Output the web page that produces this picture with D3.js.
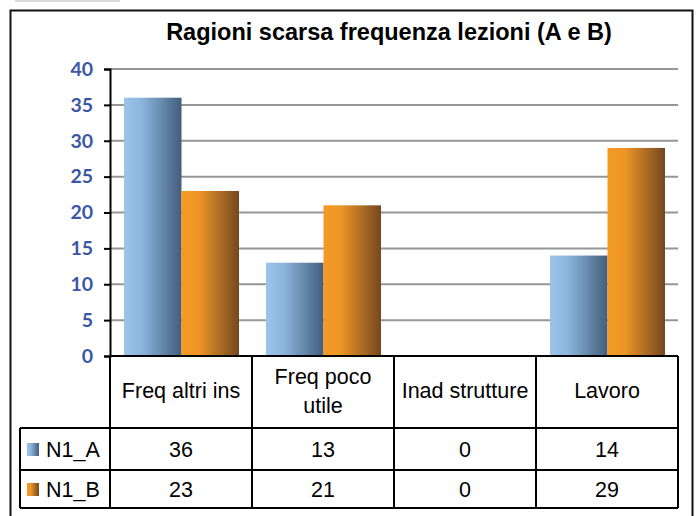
<!DOCTYPE html>
<html><head><meta charset="utf-8">
<script src="https://cdn.jsdelivr.net/npm/d3@7"></script>
<style>body{margin:0;background:#fff}svg{display:block}</style>
</head><body>
<script>
const title = "Ragioni scarsa frequenza lezioni (A e B)";
const categories = ["Freq altri ins", "Freq poco utile", "Inad strutture", "Lavoro"];
const categoryLines = [["Freq altri ins"], ["Freq poco", "utile"], ["Inad strutture"], ["Lavoro"]];
const seriesNames = ["N1_A", "N1_B"];
const valuesA = [36, 13, 0, 14];
const valuesB = [23, 21, 0, 29];
const yTicks = [0, 5, 10, 15, 20, 25, 30, 35, 40];

(function () {
const W = 699, H = 516;
const svg = d3.select("body").append("svg").attr("width", W).attr("height", H);
const defs = svg.append("defs");
function grad(id, c1, c2, c3) {
  const g = defs.append("linearGradient").attr("id", id).attr("x1", "0").attr("x2", "1").attr("y1", "0").attr("y2", "0");
  g.append("stop").attr("offset", "0").attr("stop-color", c1);
  g.append("stop").attr("offset", "0.3").attr("stop-color", c2);
  g.append("stop").attr("offset", "1").attr("stop-color", c3);
}
grad("gA", "#9DC4E8", "#8DB6DE", "#435E7C");
grad("gB", "#F49A24", "#EE9526", "#744820");
const fills = ["url(#gA)", "url(#gB)"];

svg.append("rect").attr("x", 15).attr("y", 0).attr("width", 105).attr("height", 2).attr("fill", "#d9d9d9");
svg.append("rect").attr("x", 10.5).attr("y", 10.5).attr("width", 682).attr("height", 520)
  .attr("fill", "none").attr("stroke", "#111").attr("stroke-width", 2);

const pLeft = 110, pRight = 678, pTop = 69, zeroY = 356;
const x = d3.scaleBand().domain(categories).range([pLeft, pRight]).padding(0);
const y = d3.scaleLinear().domain([0, 40]).range([zeroY, pTop]);
const xs = d3.scaleBand().domain(seriesNames).range([14, x.bandwidth() - 13]).padding(0);

svg.append("g").selectAll("line").data(yTicks.filter(t => t > 0)).join("line")
  .attr("x1", pLeft).attr("x2", pRight).attr("y1", d => y(d)).attr("y2", d => y(d))
  .attr("stroke", "#969696").attr("stroke-width", 2);

const series = [valuesA, valuesB];
series.forEach((vals, si) => {
  svg.append("g").selectAll("rect").data(vals).join("rect")
    .attr("x", (d, i) => x(categories[i]) + xs(seriesNames[si]))
    .attr("width", xs.bandwidth())
    .attr("y", d => y(d))
    .attr("height", d => zeroY - y(d))
    .attr("fill", fills[si]);
});

const yAxis = d3.axisLeft(y).tickValues(yTicks).tickSize(6).tickPadding(11);
const ga = svg.append("g").attr("transform", `translate(${pLeft},0)`).call(yAxis);
ga.select(".domain").attr("stroke", "#000").attr("stroke-width", 2);
ga.selectAll(".tick line").attr("stroke", "#000").attr("stroke-width", 2);
ga.selectAll(".tick text").attr("fill", "#3A57A5").attr("font-family", "Lato, 'Open Sans', sans-serif")
  .attr("font-weight", "bold").attr("font-size", 19.5);

svg.append("text").attr("x", 389).attr("y", 40).attr("text-anchor", "middle")
  .attr("font-family", "'Liberation Sans', Arial, sans-serif").attr("font-weight", "bold")
  .attr("font-size", 23.5).attr("fill", "#000").text(title);

const rowTops = [356, 428, 470, 508];
const tLeft = 20;
const tg = svg.append("g").attr("stroke", "#000").attr("stroke-width", 2);
tg.append("line").attr("x1", pLeft).attr("x2", pRight).attr("y1", rowTops[0]).attr("y2", rowTops[0]);
[1, 2, 3].forEach(i => tg.append("line").attr("x1", tLeft).attr("x2", pRight).attr("y1", rowTops[i]).attr("y2", rowTops[i]));
tg.append("line").attr("x1", tLeft).attr("x2", tLeft).attr("y1", rowTops[1]).attr("y2", rowTops[3]);
categories.forEach(c => tg.append("line").attr("x1", x(c)).attr("x2", x(c)).attr("y1", rowTops[0]).attr("y2", rowTops[3]));
tg.append("line").attr("x1", pRight).attr("x2", pRight).attr("y1", rowTops[0]).attr("y2", rowTops[3]);

const font = "'Liberation Sans', Arial, sans-serif";
const fs = 21.5;
categoryLines.forEach((lines, i) => {
  const cx = x(categories[i]) + x.bandwidth() / 2;
  const cy = (rowTops[0] + rowTops[1]) / 2;
  const lh = 29;
  lines.forEach((ln, j) => {
    svg.append("text").attr("x", cx).attr("y", cy + (j - (lines.length - 1) / 2) * lh + 6)
      .attr("text-anchor", "middle").attr("font-family", font).attr("font-size", fs).attr("fill", "#000").text(ln);
  });
});
series.forEach((vals, si) => {
  const cy = (rowTops[si + 1] + rowTops[si + 2]) / 2;
  svg.append("rect").attr("x", 27).attr("y", cy - 6).attr("width", 12).attr("height", 13).attr("fill", fills[si]);
  svg.append("text").attr("x", 46).attr("y", cy + 8).attr("font-family", font).attr("font-size", fs).text(seriesNames[si]);
  vals.forEach((v, i) => {
    svg.append("text").attr("x", x(categories[i]) + x.bandwidth() / 2).attr("y", cy + 8)
      .attr("text-anchor", "middle").attr("font-family", font).attr("font-size", fs).text(v);
  });
});
})();
</script>
</body></html>
